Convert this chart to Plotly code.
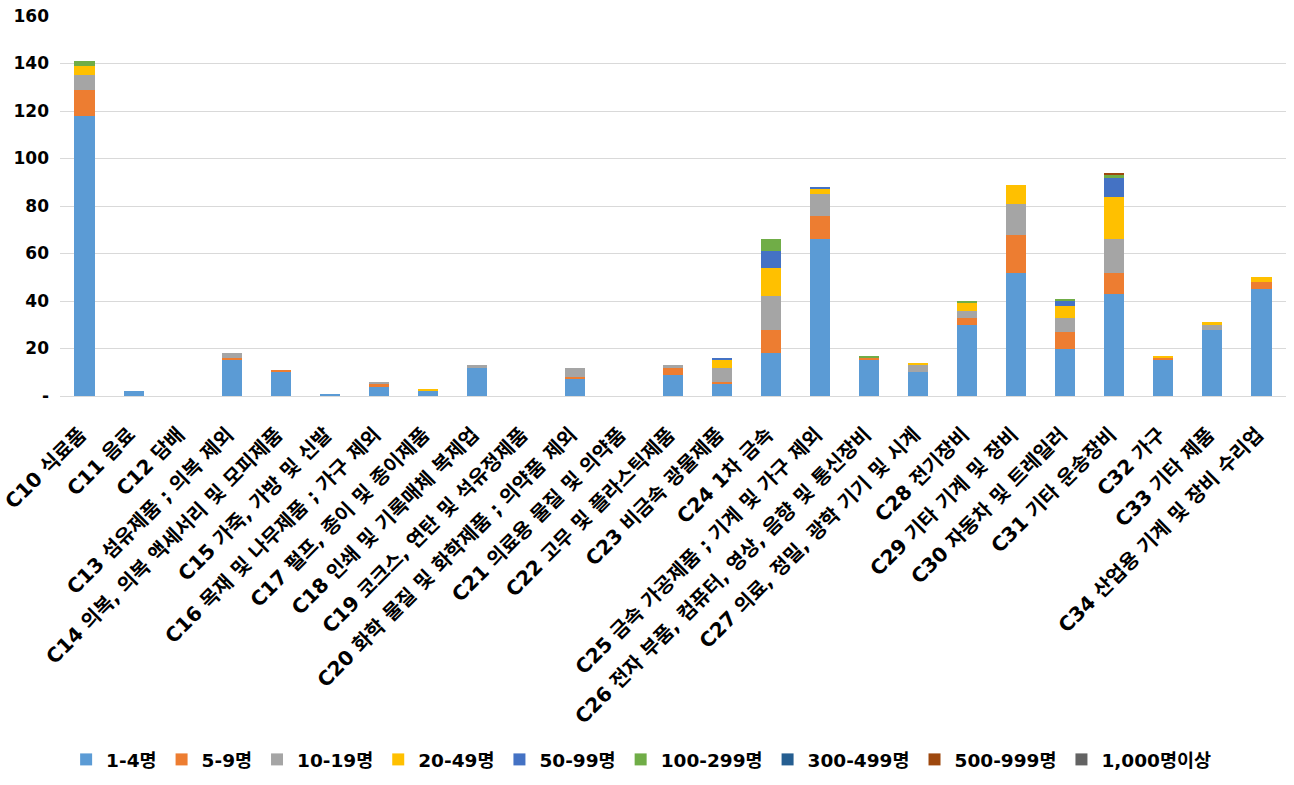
import plotly.graph_objects as go

categories = [
    "C10 식료품", "C11 음료", "C12 담배", "C13 섬유제품 ; 의복 제외",
    "C14 의복, 의복 액세서리 및 모피제품", "C15 가죽, 가방 및 신발",
    "C16 목재 및 나무제품 ; 가구 제외", "C17 펄프, 종이 및 종이제품",
    "C18 인쇄 및 기록매체 복제업", "C19 코크스, 연탄 및 석유정제품",
    "C20 화학 물질 및 화학제품 ; 의약품 제외", "C21 의료용 물질 및 의약품",
    "C22 고무 및 플라스틱제품", "C23 비금속 광물제품", "C24 1차 금속",
    "C25 금속 가공제품 ; 기계 및 가구 제외",
    "C26 전자 부품, 컴퓨터, 영상, 음향 및 통신장비",
    "C27 의료, 정밀, 광학 기기 및 시계", "C28 전기장비", "C29 기타 기계 및 장비",
    "C30 자동차 및 트레일러", "C31 기타 운송장비", "C32 가구", "C33 기타 제품",
    "C34 산업용 기계 및 장비 수리업",
]

series_names = ["1-4명", "5-9명", "10-19명", "20-49명", "50-99명",
                "100-299명", "300-499명", "500-999명", "1,000명이상"]

s_1_4 = [118, 2, 0, 15, 10, 1, 4, 2, 12, 0, 7, 0, 9, 5, 18, 66, 15, 10, 30, 52, 20, 43, 15, 28, 45]
s_5_9 = [11, 0, 0, 1, 1, 0, 1, 0, 0, 0, 1, 0, 3, 1, 10, 10, 1, 0, 3, 16, 7, 9, 1, 0, 3]
s_10_19 = [6, 0, 0, 2, 0, 0, 1, 0, 1, 0, 4, 0, 1, 6, 14, 9, 0, 3, 3, 13, 6, 14, 0, 2, 0]
s_20_49 = [4, 0, 0, 0, 0, 0, 0, 1, 0, 0, 0, 0, 0, 3, 12, 2, 0, 1, 3, 8, 5, 18, 1, 1, 2]
s_50_99 = [0, 0, 0, 0, 0, 0, 0, 0, 0, 0, 0, 0, 0, 1, 7, 1, 0, 0, 0, 0, 2, 8, 0, 0, 0]
s_100_299 = [2, 0, 0, 0, 0, 0, 0, 0, 0, 0, 0, 0, 0, 0, 5, 0, 1, 0, 1, 0, 1, 1, 0, 0, 0]
s_300_499 = [0] * 25
s_500_999 = [0, 0, 0, 0, 0, 0, 0, 0, 0, 0, 0, 0, 0, 0, 0, 0, 0, 0, 0, 0, 0, 1, 0, 0, 0]
s_1000 = [0] * 25

series_values = [s_1_4, s_5_9, s_10_19, s_20_49, s_50_99,
                 s_100_299, s_300_499, s_500_999, s_1000]

colors = ["#5B9BD5", "#ED7D31", "#A5A5A5", "#FFC000", "#4472C4",
          "#70AD47", "#255E91", "#9E480E", "#636363"]

y_tickvals = [0, 20, 40, 60, 80, 100, 120, 140, 160]
y_ticktext = ["-", "20", "40", "60", "80", "100", "120", "140", "160"]

FONT = "DejaVu Sans, Noto Sans CJK KR, sans-serif"

fig = go.Figure()
for name, vals, col in zip(series_names, series_values, colors):
    fig.add_trace(go.Bar(x=categories, y=vals, name=name,
                         marker=dict(color=col, line=dict(width=0))))

fig.update_layout(
    barmode="stack",
    bargap=0.59,
    width=1294, height=785,
    margin=dict(l=60, r=8, t=16, b=389),
    plot_bgcolor="white", paper_bgcolor="white",
    font=dict(family=FONT, color="black"),
    legend=dict(orientation="h", x=0.474, xanchor="center",
                yref="container", y=0.032, yanchor="middle",
                font=dict(size=18.5, family=FONT, weight="bold"),
                traceorder="normal"),
    xaxis=dict(tickangle=-45, tickfont=dict(size=20, family=FONT, weight="bold"),
               showgrid=False, showline=False, ticks="", automargin=False,
               ticklabelstandoff=22, ticklabelshift=-4),
    yaxis=dict(range=[0, 160], tickvals=y_tickvals, ticktext=y_ticktext,
               showgrid=True, gridcolor="#D9D9D9", gridwidth=1,
               zeroline=True, zerolinecolor="#D9D9D9", zerolinewidth=1,
               tickfont=dict(size=17, family=FONT, weight="bold"),
               ticks="", ticklabelstandoff=10, automargin=False),
)

fig.write_html("out.html", config={"displayModeBar": False},
               post_script="document.body.style.margin='0';")
